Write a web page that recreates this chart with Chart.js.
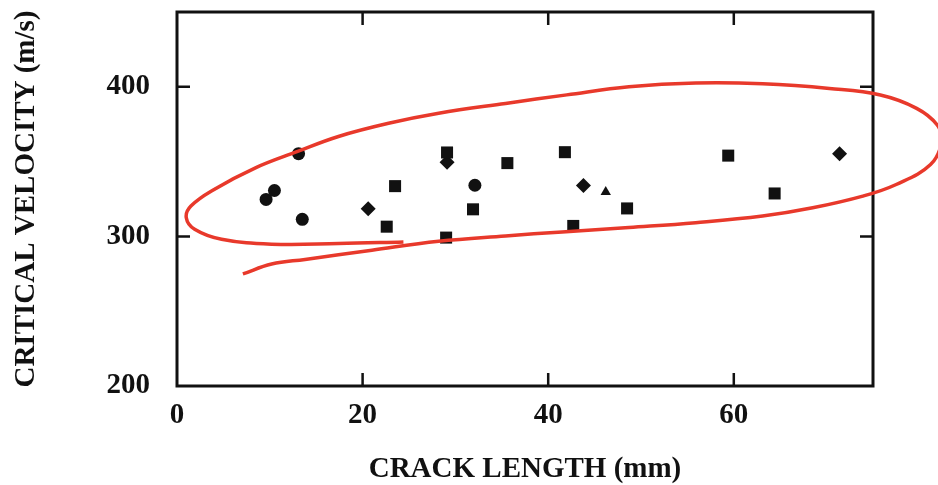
<!DOCTYPE html>
<html>
<head>
<meta charset="utf-8">
<script src="https://cdn.jsdelivr.net/npm/chart.js@4.4.1/dist/chart.umd.min.js"></script>
<style>
  html, body { margin: 0; padding: 0; background: #fff; }
  #wrap { width: 938px; height: 485px; position: relative; }
</style>
</head>
<body>
<div id="wrap"><canvas id="graph-velocity"></canvas></div>
<script>
// data
const circleX = [9.6, 10.5, 13.1, 13.5, 32.1];
const circleY = [324.7, 330.7, 355.3, 311.4, 334.2];

const squareX = [22.6, 23.5, 29.1, 29.0, 31.9, 35.6, 41.8, 42.7, 48.5, 59.4, 64.4];
const squareY = [306.5, 333.6, 356.1, 299.2, 318.1, 349.0, 356.3, 307.0, 318.7, 354.0, 328.7];

const diamondX = [20.6, 29.1, 43.8, 71.4];
const diamondY = [318.5, 349.5, 334.0, 355.3];

const triangleX = [46.2];
const triangleY = [329.6];

// hand drawn red loop around the points
const outlineX = [24.4, 17.4, 10.2, 4.8, 1.9, 1.0, 1.5, 4.0, 8.4, 13.0, 17.4, 22.8, 28.2, 35.4, 42.0, 48.7, 55.9, 63.1, 70.3, 75.8, 79.7, 81.9, 82.4, 81.2, 77.5, 73.9, 68.5, 63.1, 55.9, 48.7, 41.5, 35.4, 28.2, 21.0, 13.8, 10.2, 7.1];
const outlineY = [296.3, 295.2, 294.8, 298.1, 304.8, 312.5, 320.3, 331.4, 345.7, 356.8, 366.8, 375.6, 382.3, 388.9, 394.6, 400.0, 402.5, 402.0, 398.9, 394.5, 385.6, 374.6, 363.5, 348.0, 334.7, 326.9, 319.1, 313.6, 309.2, 306.0, 303.0, 300.3, 296.7, 290.8, 284.6, 281.5, 274.9];

const xLabels = [0, 20, 40, 60];
const yLabels = [200, 300, 400];

const pts = (xs, ys) => xs.map((x, i) => ({ x: x, y: ys[i] }));

const serif = "'Liberation Serif', 'Times New Roman', serif";
const ink = "#111";

// box round the plot with ticks pointing inwards
const framePlugin = {
    id: "frame",
    beforeDatasetsDraw(chart) {
        const { ctx, chartArea: a, scales } = chart;
        const len = 13;
        ctx.save();
        ctx.strokeStyle = ink;
        ctx.lineWidth = 3;
        ctx.strokeRect(a.left, a.top, a.right - a.left, a.bottom - a.top);
        ctx.lineWidth = 2.5;
        ctx.beginPath();
        scales.x.ticks.forEach(t => {
            if (t.value <= 0 || t.value >= 75) return;
            const px = scales.x.getPixelForValue(t.value);
            ctx.moveTo(px, a.bottom); ctx.lineTo(px, a.bottom - len);
            ctx.moveTo(px, a.top); ctx.lineTo(px, a.top + len);
        });
        scales.y.ticks.forEach(t => {
            if (t.value <= 200 || t.value >= 450) return;
            const py = scales.y.getPixelForValue(t.value);
            ctx.moveTo(a.left, py); ctx.lineTo(a.left + len, py);
            ctx.moveTo(a.right, py); ctx.lineTo(a.right - len, py);
        });
        ctx.stroke();
        ctx.restore();
    }
};

new Chart(document.getElementById("graph-velocity").getContext("2d"), {
    type: "scatter",
    data: {
        datasets: [{
            data: pts(outlineX, outlineY),
            showLine: true,
            tension: 0.4,
            borderColor: "#e8392b",
            borderWidth: 3.5,
            pointRadius: 0,
            clip: false
        }, {
            data: pts(circleX, circleY),
            pointStyle: "circle",
            pointRadius: 6.5,
            backgroundColor: ink,
            borderColor: ink,
            borderWidth: 0
        }, {
            data: pts(squareX, squareY),
            pointStyle: "rect",
            pointRadius: 8.5,
            backgroundColor: ink,
            borderColor: ink,
            borderWidth: 0
        }, {
            data: pts(diamondX, diamondY),
            pointStyle: "rectRot",
            pointRadius: 7.5,
            backgroundColor: ink,
            borderColor: ink,
            borderWidth: 0
        }, {
            data: pts(triangleX, triangleY),
            pointStyle: "triangle",
            pointRadius: 6,
            backgroundColor: ink,
            borderColor: ink,
            borderWidth: 0
        }]
    },
    options: {
        responsive: true,
        maintainAspectRatio: false,
        animation: false,
        layout: { padding: { top: 12, right: 65, left: 0, bottom: 0 } },
        plugins: {
            legend: { display: false },
            tooltip: { enabled: false }
        },
        scales: {
            x: {
                type: "linear",
                min: 0,
                max: 75,
                grid: { display: false, drawTicks: false },
                border: { display: false },
                ticks: {
                    stepSize: 10,
                    padding: 12,
                    maxRotation: 0,
                    color: ink,
                    font: { family: serif, size: 29, weight: "bold" },
                    callback: v => xLabels.includes(v) ? String(v) : null
                },
                title: {
                    display: true,
                    text: "CRACK LENGTH (mm)",
                    color: ink,
                    font: { family: serif, size: 29, weight: "bold", lineHeight: 1 },
                    padding: { top: 0, bottom: 1 }
                },
                afterFit: s => { s.height = 99; }
            },
            y: {
                min: 200,
                max: 450,
                grid: { display: false, drawTicks: false },
                border: { display: false },
                ticks: {
                    stepSize: 100,
                    padding: 27,
                    color: ink,
                    font: { family: serif, size: 29, weight: "bold" },
                    callback: v => yLabels.includes(v) ? String(v) : null
                },
                title: {
                    display: true,
                    text: "CRITICAL VELOCITY (m/s)",
                    color: ink,
                    font: { family: serif, size: 29, weight: "bold", lineHeight: 1 },
                    padding: { top: 12, bottom: 0 }
                },
                afterFit: s => { s.width = 177; s.paddingTop = 0; }
            }
        }
    },
    plugins: [framePlugin]
});
</script>
</body>
</html>
